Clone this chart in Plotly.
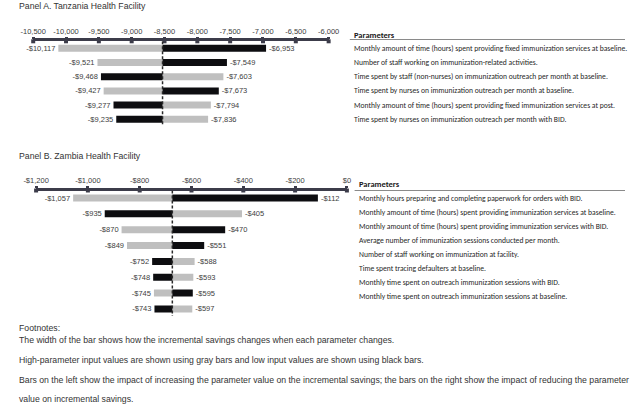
import plotly.graph_objects as go

W, H = 636, 408

# ---------------- data ----------------
PARAMS_A = [
    "Monthly amount of time (hours) spent providing fixed immunization services at baseline.",
    "Number of staff working on immunization-related activities.",
    "Time spent by staff (non-nurses) on immunization outreach per month at baseline.",
    "Time spent by nurses on immunization outreach per month at baseline.",
    "Monthly amount of time (hours) spent providing fixed immunization services at post.",
    "Time spent by nurses on immunization outreach per month with BID.",
]
HIGH_A = [-10117, -9521, -7603, -9427, -7794, -7836]   # gray bars
LOW_A = [-6953, -7549, -9468, -7673, -9277, -9235]     # black bars
BASE_A = -8530
TICKS_A = [-10500, -10000, -9500, -9000, -8500, -8000, -7500, -7000, -6500, -6000]
TICK_LABELS_A = ["-10,500", "-10,000", "-9,500", "-9,000", "-8,500", "-8,000",
                 "-7,500", "-7,000", "-6,500", "-6,000"]

PARAMS_B = [
    "Monthly hours preparing and completing paperwork for orders with BID.",
    "Monthly amount of time (hours) spent providing immunization services at baseline.",
    "Monthly amount of time (hours) spent providing immunization services with BID.",
    "Average number of immunization sessions conducted per month.",
    "Number of staff working on immunization at facility.",
    "Time spent tracing defaulters at baseline.",
    "Monthly time spent on outreach immunization sessions with BID.",
    "Monthly time spent on outreach immunization sessions at baseline.",
]
HIGH_B = [-1057, -405, -870, -849, -588, -593, -745, -597]   # gray bars
LOW_B = [-112, -935, -470, -551, -752, -748, -595, -743]      # black bars
BASE_B = -674
TICKS_B = [-1200, -1000, -800, -600, -400, -200, 0]
TICK_LABELS_B = ["-$1,200", "-$1,000", "-$800", "-$600", "-$400", "-$200", "$0"]

TITLE_A = "Panel A. Tanzania Health Facility"
TITLE_B = "Panel B. Zambia Health Facility"
FOOTNOTES = [
    "Footnotes:",
    "The width of the bar shows how the incremental savings changes when each parameter changes.",
    "High-parameter input values are shown using gray bars and low input values are shown using black bars.",
    "Bars on the left show the impact of increasing the parameter value on the incremental savings; the bars on the right show the impact of reducing the parameter",
    "value on incremental savings.",
]

# ---------------- styles ----------------
GRAY = "#bfbfbf"
BLACK = "#0d0d10"
AXIS_COL = "#3c3c4a"
TXT = "#404040"
SANS = "Liberation Sans, Arial, sans-serif"
CAL = "Carlito, Calibri, Lato, sans-serif"


def money(v):
    return ("-$" if v < 0 else "$") + f"{abs(v):,}"


def px_x(p):
    return p / W


def px_y(p):
    return 1 - p / H


ROWA_TOP, ROWA_STEP = 48.3, 14.2
ROWB_TOP, ROWB_STEP = 198.0, 15.85
AXA_Y, AXB_Y = 41.3, 190.5

ya_top = -(ROWA_TOP - AXA_Y) / ROWA_STEP
yb_top = -(ROWB_TOP - AXB_Y) / ROWB_STEP
nA, nB = len(HIGH_A), len(HIGH_B)

fig = go.Figure()

panels = [
    dict(high=HIGH_A, low=LOW_A, base=BASE_A, xa="x", ya="y", width=0.49,
         ticks=TICKS_A, top=ya_top),
    dict(high=HIGH_B, low=LOW_B, base=BASE_B, xa="x2", ya="y2", width=0.44,
         ticks=TICKS_B, top=yb_top),
]
for p in panels:
    rows = list(range(len(p["high"])))
    for vals, col in ((p["high"], GRAY), (p["low"], BLACK)):
        fig.add_trace(go.Bar(
            orientation="h",
            y=rows,
            x=[v - p["base"] for v in vals],
            base=p["base"],
            width=p["width"],
            marker=dict(color=col, line=dict(width=0)),
            text=[money(v) for v in vals],
            textposition="outside",
            constraintext="none",
            cliponaxis=False,
            textfont=dict(family=SANS, size=7.5, color=TXT),
            xaxis=p["xa"], yaxis=p["ya"],
            showlegend=False,
            hoverinfo="skip",
        ))
    # tick knobs on the axis line
    fig.add_trace(go.Scatter(
        x=p["ticks"], y=[p["top"]] * len(p["ticks"]),
        mode="markers", marker=dict(symbol="square", size=4, color=AXIS_COL),
        cliponaxis=False, xaxis=p["xa"], yaxis=p["ya"],
        showlegend=False, hoverinfo="skip",
    ))

axis_common = dict(
    side="top", showline=True, linecolor=AXIS_COL, linewidth=2.5,
    ticks="outside", ticklen=2, tickwidth=3, tickcolor=AXIS_COL,
    showgrid=False, zeroline=False, fixedrange=True,
    tickfont=dict(family=SANS, size=7.5, color=TXT),
)

fig.update_layout(
    width=W, height=H,
    margin=dict(l=0, r=0, t=0, b=0),
    paper_bgcolor="white", plot_bgcolor="rgba(0,0,0,0)",
    barmode="overlay",
    xaxis=dict(domain=[px_x(21), px_x(328)], range=[TICKS_A[0], TICKS_A[-1]],
               tickvals=TICKS_A, ticktext=TICK_LABELS_A, anchor="y", **axis_common),
    yaxis=dict(domain=[px_y(ROWA_TOP + (nA - 0.5) * ROWA_STEP), px_y(AXA_Y)],
               range=[nA - 0.5, ya_top], visible=False, fixedrange=True),
    xaxis2=dict(domain=[px_x(24), px_x(347)], range=[TICKS_B[0], TICKS_B[-1]],
                tickvals=TICKS_B, ticktext=TICK_LABELS_B, anchor="y2", **axis_common),
    yaxis2=dict(domain=[px_y(ROWB_TOP + (nB - 0.5) * ROWB_STEP), px_y(AXB_Y)],
                range=[nB - 0.5, yb_top], visible=False, fixedrange=True),
)

shapes = [
    dict(type="line", xref="x", yref="y", x0=BASE_A, x1=BASE_A, y0=ya_top, y1=nA - 0.55,
         line=dict(color="#2a2a2a", width=1.5, dash="3px,2px"), layer="above"),
    dict(type="line", xref="x2", yref="y2", x0=BASE_B, x1=BASE_B, y0=yb_top, y1=nB - 0.55,
         line=dict(color="#2a2a2a", width=1.5, dash="3px,2px"), layer="above"),
    dict(type="line", xref="paper", yref="paper", x0=px_x(350), x1=1,
         y0=px_y(39.5), y1=px_y(39.5), line=dict(color="#8a8a8a", width=1)),
    dict(type="line", xref="paper", yref="paper", x0=px_x(355), x1=1,
         y0=px_y(190.5), y1=px_y(190.5), line=dict(color="#8a8a8a", width=1)),
]

ann = []
ann.append(dict(text=TITLE_A, x=px_x(4), y=px_y(6.5), xref="paper", yref="paper",
                xanchor="left", yanchor="middle", showarrow=False,
                font=dict(family=SANS, size=8.7, color="#333333")))
ann.append(dict(text=TITLE_B, x=px_x(4), y=px_y(156), xref="paper", yref="paper",
                xanchor="left", yanchor="middle", showarrow=False,
                font=dict(family=SANS, size=8.7, color="#333333")))
ann.append(dict(text="<b>Parameters</b>", x=px_x(352), y=px_y(34.5), xref="paper", yref="paper",
                xanchor="left", yanchor="middle", showarrow=False,
                font=dict(family=CAL, size=8.5, color="#1a1a1a")))
ann.append(dict(text="<b>Parameters</b>", x=px_x(357), y=px_y(184), xref="paper", yref="paper",
                xanchor="left", yanchor="middle", showarrow=False,
                font=dict(family=CAL, size=8.5, color="#1a1a1a")))
for i, t in enumerate(PARAMS_A):
    ann.append(dict(text=t, x=px_x(352), y=i, xref="paper", yref="y",
                    xanchor="left", yanchor="middle", showarrow=False,
                    font=dict(family=CAL, size=7.6, color="#262626")))
for i, t in enumerate(PARAMS_B):
    ann.append(dict(text=t, x=px_x(357), y=px_y(198 + 14.1 * i), xref="paper", yref="paper",
                    xanchor="left", yanchor="middle", showarrow=False,
                    font=dict(family=CAL, size=7.6, color="#262626")))
foot_y = [328, 340, 360, 380, 399]
for t, yy in zip(FOOTNOTES, foot_y):
    ann.append(dict(text=t, x=px_x(4), y=px_y(yy), xref="paper", yref="paper",
                    xanchor="left", yanchor="middle", showarrow=False,
                    font=dict(family=SANS, size=8.7, color="#333333")))

fig.update_layout(shapes=shapes, annotations=ann)
fig.write_html("out.html", config={"displayModeBar": False},
               post_script="document.body.style.margin='0';document.body.style.overflow='hidden';")
